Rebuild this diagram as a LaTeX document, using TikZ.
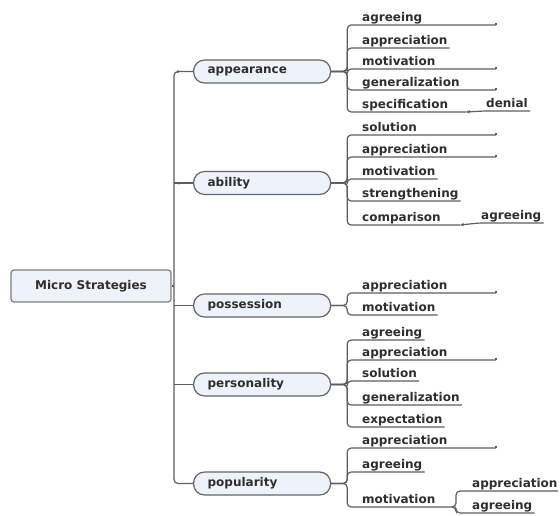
\documentclass[tikz,border=0pt]{standalone}
\usepackage{fontspec}
\setmainfont{DejaVu Sans}
\usetikzlibrary{arrows.meta}
\definecolor{ln}{HTML}{5E5E5E}
\definecolor{txt}{HTML}{2E2E2E}
\definecolor{boxfill}{HTML}{EEF2FA}
\definecolor{boxline}{HTML}{666666}
\begin{document}
\begin{tikzpicture}[x=1pt,y=-1pt,
  conn/.style={draw=ln, line width=1.2pt, rounded corners=4pt},
  endtick/.style={draw=ln, line width=1.1pt},
  lbl/.style={font=\bfseries\fontsize{12}{14}\selectfont, text=txt},
  pill/.style={lbl, draw=boxline, fill=boxfill, line width=1.2pt, rounded corners=11pt,
    minimum height=23pt, inner xsep=14pt, text width=109pt, align=left, anchor=west},
  rootbox/.style={lbl, draw=boxline!85, fill=boxfill, line width=1.2pt, rounded corners=3pt,
    minimum width=160pt, minimum height=32pt},
  leaf/.style={lbl, anchor=south west, inner xsep=2pt, inner ysep=0.5pt,
    text height=9pt, text depth=3pt},
]
\useasboundingbox (0,0) rectangle (560,515);

% root and main branches
\node[rootbox] (root) at (91,286) {Micro Strategies};
\node[pill] (appearance) at (193,71.5) {appearance};
\node[pill] (ability) at (193,183) {ability};
\node[pill] (possession) at (193,305.5) {possession};
\node[pill] (personality) at (193,384.5) {personality};
\node[pill] (popularity) at (193,483.5) {popularity};
\coordinate (trunk) at (174,286);

\draw[conn] (appearance.west) -- ++(-19,0) |- (popularity.west);
\draw[conn] (ability.west) -- ++(-19,0);
\draw[conn] (possession.west) -- ++(-19,0);
\draw[conn] (personality.west) -- ++(-19,0);
\draw[conn] (root.east) -- (trunk);
\fill[ln] (178,71.5) circle (1.5);
\fill[ln] (179,183) circle (1.5);

% appearance
\node[leaf] (a-agr) at (360,25) {agreeing};
\node[leaf] (a-app) at (360,48) {appreciation};
\node[leaf] (a-mot) at (360,69) {motivation};
\node[leaf] (a-gen) at (360,90) {generalization};
\node[leaf] (a-spec) at (360,112) {specification};
\node[leaf] (a-den) at (484,111) {denial};
\coordinate (a-agr-e) at (496,25);
\coordinate (a-mot-e) at (496,69);
\coordinate (a-gen-e) at (496,90);
\coordinate (a-spec-j) at (466,112);
\draw[conn] (appearance.east) -- ++(16,0) |- (a-agr.south west) -- (a-agr-e);
\draw[conn] (appearance.east) -- ++(16,0) |- (a-app.south west) -- (a-app.south east);
\draw[conn] (appearance.east) -- ++(16,0) |- (a-mot.south west) -- (a-mot-e);
\draw[conn] (appearance.east) -- ++(16,0) |- (a-gen.south west) -- (a-gen-e);
\draw[conn] (appearance.east) -- ++(16,0) |- (a-spec.south west) -- (a-spec-j);
\draw[conn, {Stealth[length=4pt,width=3.5pt]}-] (a-spec-j) -- (a-den.south west) -- (a-den.south east);
\draw[endtick] (a-agr-e) -- ++(0,-2.5);
\draw[endtick] (a-mot-e) -- ++(0,-2.5);
\draw[endtick] (a-gen-e) -- ++(0,-2.5);

% ability
\node[leaf] (b-sol) at (360,135) {solution};
\node[leaf] (b-app) at (360,157) {appreciation};
\node[leaf] (b-mot) at (360,179) {motivation};
\node[leaf] (b-str) at (360,201) {strengthening};
\node[leaf] (b-cmp) at (360,225) {comparison};
\node[leaf] (b-agr) at (479,223) {agreeing};
\coordinate (b-sol-e) at (496,135);
\coordinate (b-app-e) at (496,157);
\coordinate (b-cmp-j) at (460,225);
\draw[conn] (ability.east) -- ++(16,0) |- (b-sol.south west) -- (b-sol-e);
\draw[conn] (ability.east) -- ++(16,0) |- (b-app.south west) -- (b-app-e);
\draw[conn] (ability.east) -- ++(16,0) |- (b-mot.south west) -- (b-mot.south east);
\draw[conn] (ability.east) -- ++(16,0) |- (b-str.south west) -- (b-str.south east);
\draw[conn] (ability.east) -- ++(16,0) |- (b-cmp.south west) -- (b-cmp-j);
\draw[conn, {Stealth[length=4pt,width=3.5pt]}-] (b-cmp-j) -- (b-agr.south west) -- (b-agr.south east);
\draw[endtick] (b-sol-e) -- ++(0,-2.5);
\draw[endtick] (b-app-e) -- ++(0,-2.5);

% possession
\node[leaf] (c-app) at (360,293) {appreciation};
\node[leaf] (c-mot) at (360,315) {motivation};
\coordinate (c-app-e) at (496,293);
\draw[conn] (possession.east) -- ++(16,0) |- (c-app.south west) -- (c-app-e);
\draw[conn] (possession.east) -- ++(16,0) |- (c-mot.south west) -- (c-mot.south east);
\draw[endtick] (c-app-e) -- ++(0,-2.5);

% personality
\node[leaf] (d-agr) at (360,340) {agreeing};
\node[leaf] (d-app) at (360,360) {appreciation};
\node[leaf] (d-sol) at (360,381) {solution};
\node[leaf] (d-gen) at (360,405) {generalization};
\node[leaf] (d-exp) at (360,427) {expectation};
\coordinate (d-app-e) at (496,360);
\draw[conn] (personality.east) -- ++(16,0) |- (d-agr.south west) -- (d-agr.south east);
\draw[conn] (personality.east) -- ++(16,0) |- (d-app.south west) -- (d-app-e);
\draw[conn] (personality.east) -- ++(16,0) |- (d-sol.south west) -- (d-sol.south east);
\draw[conn] (personality.east) -- ++(16,0) |- (d-gen.south west) -- (d-gen.south east);
\draw[conn] (personality.east) -- ++(16,0) |- (d-exp.south west) -- (d-exp.south east);
\draw[endtick] (d-app-e) -- ++(0,-2.5);

% popularity
\node[leaf] (e-app) at (360,448) {appreciation};
\node[leaf] (e-agr) at (360,472) {agreeing};
\node[leaf] (e-mot) at (360,507) {motivation};
\node[leaf] (e-mapp) at (470,491) {appreciation};
\node[leaf] (e-magr) at (470,513) {agreeing};
\coordinate (e-app-e) at (496,448);
\coordinate (e-mot-j) at (452,507);
\coordinate (e-mapp-e) at (558,491);
\draw[conn] (popularity.east) -- ++(16,0) |- (e-app.south west) -- (e-app-e);
\draw[conn] (popularity.east) -- ++(16,0) |- (e-agr.south west) -- (e-agr.south east);
\draw[conn] (popularity.east) -- ++(16,0) |- (e-mot.south west) -- (e-mot-j);
\draw[conn] (e-mot-j) -- ++(4,0) |- (e-mapp.south west) -- (e-mapp-e);
\draw[conn] (e-mot-j) -- ++(4,0) |- (e-magr.south west) -- (e-magr.south east);
\draw[endtick] (e-app-e) -- ++(0,-2.5);
\end{tikzpicture}
\end{document}
